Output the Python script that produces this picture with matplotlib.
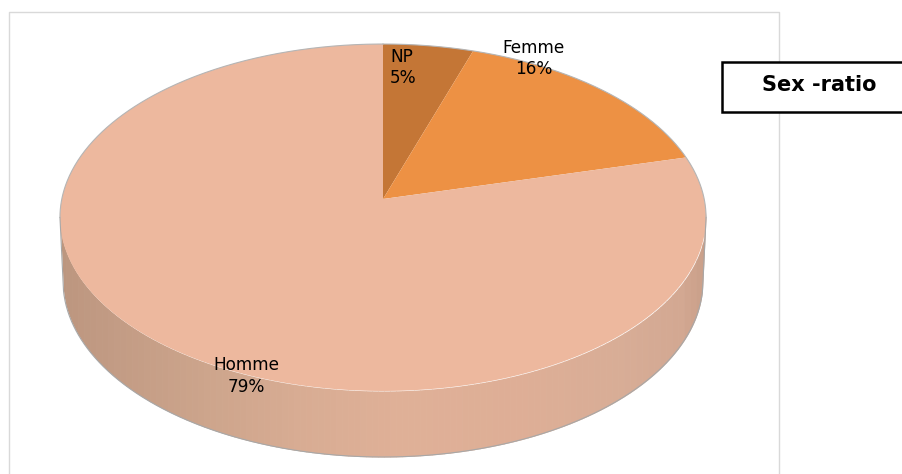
import numpy as np
import matplotlib
matplotlib.use('Agg')
import matplotlib.pyplot as plt
from matplotlib.patches import Rectangle

labels = ['NP', 'Femme', 'Homme']
shares = [5, 16, 79]
colors = ['#C47636', '#ED9144', '#EDB89E']
label_pos = [(390, 67.5), (534, 58.5), (246, 376)]
label_align = ['left', 'center', 'center']
title = 'Sex -ratio'

# pixel layout of the 3d disc
cx, apex_y = 383, 199
persp = 0.1066
sx, sy = 321.2, 171.5
base_cx, base_cy, base_rx, base_ry = 383, 281, 320, 176

# shade of the side wall, left to right
wall_x = [60, 110, 200, 300, 400, 520, 620, 680, 706]
wall_r = [0xBC, 0xC2, 0xCC, 0xD8, 0xDF, 0xDE, 0xD8, 0xD3, 0xC8]
wall_g = [0x96, 0x9B, 0xA4, 0xAC, 0xB0, 0xAE, 0xAD, 0xA8, 0x9E]
wall_b = [0x7F, 0x84, 0x8B, 0x93, 0x97, 0x96, 0x96, 0x92, 0x88]


def top_face(frac):
    # fraction of the turn, clockwise from 12 o'clock, projected on the tilted disc
    ang = 2 * np.pi * np.asarray(frac)
    u, v = np.sin(ang), np.cos(ang)
    w = 1 + persp * v
    return cx + sx * u / w, apex_y - sy * v / w


fig = plt.figure(figsize=(9.03, 4.74), dpi=100)
ax = fig.add_axes([0, 0, 1, 1])
ax.set_xlim(0, 903)
ax.set_ylim(474, 0)
ax.axis('off')

# chart frame, the bottom edge is cut off by the image
ax.plot([9, 9, 779, 779], [474, 11.7, 11.7, 474], color='#D9D9D9', lw=1)

# side wall as thin vertical strips
t = np.linspace(0.25, 0.75, 1500)
xe, ye = top_face(t)
order = np.argsort(xe)
xe, ye = xe[order], ye[order]
xb = np.linspace(base_cx - base_rx, base_cx + base_rx, 1200)
yb = base_cy + base_ry * np.sqrt(np.clip(1 - ((xb - base_cx) / base_rx) ** 2, 0, 1))
# the wall narrows slightly from the top rim down to the base
xo = np.r_[xe[0], xb, xe[-1]]
yo = np.r_[ye[0], yb, ye[-1]]
for x0 in np.arange(xe[0], xe[-1], 6):
    xs = np.linspace(x0, min(x0 + 6.5, xe[-1]), 12)
    top = np.interp(xs, xe, ye)
    bot = np.interp(xs, xo, yo)
    mid = x0 + 3
    col = (np.interp(mid, wall_x, wall_r) / 255,
           np.interp(mid, wall_x, wall_g) / 255,
           np.interp(mid, wall_x, wall_b) / 255)
    ax.fill_between(xs, top, np.maximum(bot, top), color=col, lw=0)
ax.plot(xo, yo, color='#A8A8A8', lw=0.8)

# top face
start = 0
total = sum(shares)
for share, col in zip(shares, colors):
    frac = np.linspace(start / total, (start + share) / total, 300)
    x, y = top_face(frac)
    ax.fill(np.r_[cx, x], np.r_[apex_y, y], color=col, lw=0)
    start += share
x, y = top_face(np.linspace(0, 0.5, 400))
keep = y < 218
ax.plot(x[keep], y[keep], color='#B5B5B5', lw=0.8)
x, y = top_face(np.linspace(0.5, 1, 400))
keep = y < 218
ax.plot(x[keep], y[keep], color='#B5B5B5', lw=0.8)

for name, share, (lx, ly), al in zip(labels, shares, label_pos, label_align):
    ax.text(lx, ly, f'{name}\n{share}%', ha=al, va='center', multialignment=al,
            fontsize=12.2, color='black', linespacing=1.25)

ax.add_patch(Rectangle((722, 61.5), 185, 50.5, fc='white', ec='black', lw=1.8, zorder=5))
ax.text(819, 85, title, ha='center', va='center', fontsize=15, fontweight='bold', zorder=6)

fig.savefig('out.png', dpi=100)
